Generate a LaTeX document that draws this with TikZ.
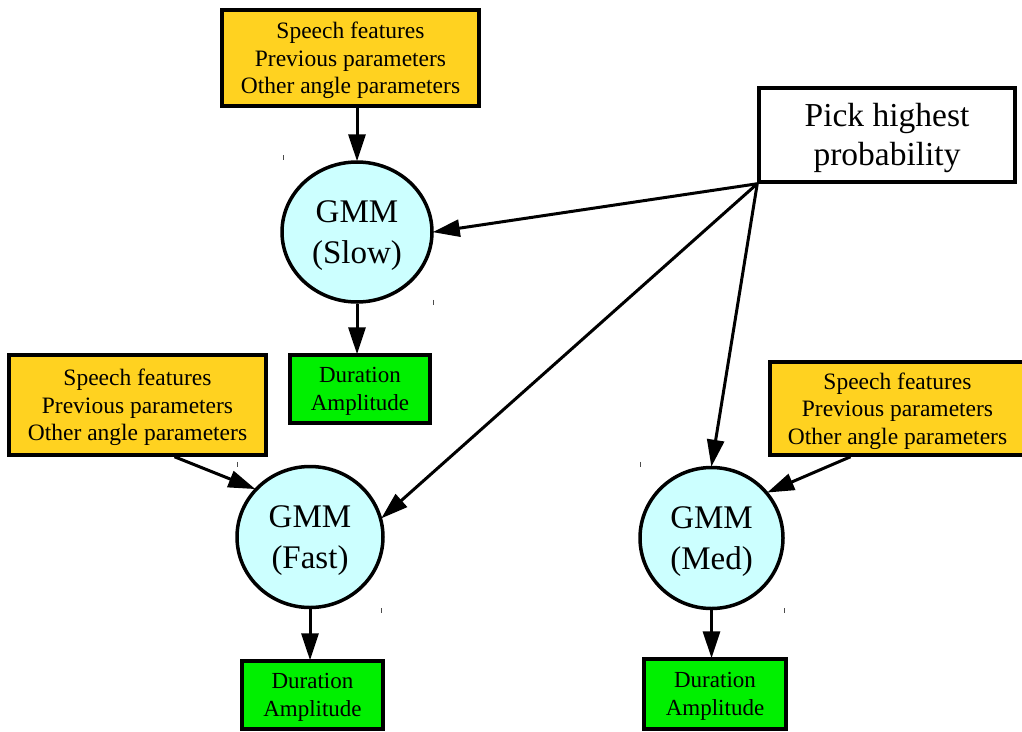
\documentclass[tikz,border=0pt]{standalone}
\usepackage{fontspec}
\setmainfont{Liberation Serif}
\usetikzlibrary{arrows.meta,shapes.geometric}

\definecolor{inputyellow}{RGB}{255,210,32}
\definecolor{gmmcyan}{RGB}{204,255,255}
\definecolor{outgreen}{RGB}{0,240,0}

\tikzset{
  inputbox/.style={draw, line width=3.5pt, fill=inputyellow, inner sep=0pt,
    minimum width=257pt, minimum height=96pt, align=center, text depth=-7pt,
    font=\fontsize{23.5}{27.5}\selectfont},
  gmm/.style={draw, ellipse, line width=3.5pt, fill=gmmcyan, inner sep=0pt,
    align=center, text depth=-7pt, font=\fontsize{33}{41}\selectfont},
  outbox/.style={draw, line width=3.5pt, fill=outgreen, inner sep=0pt,
    minimum width=140pt, minimum height=68pt, align=center, text depth=-4pt,
    font=\fontsize{23}{28}\selectfont},
  pickbox/.style={draw, line width=3.5pt, fill=white, inner sep=0pt,
    minimum width=256pt, minimum height=94pt, align=center, text depth=0.5pt,
    font=\fontsize{33.5}{39}\selectfont},
  flow/.style={line width=3pt, -{Triangle[length=27pt,width=17pt]}, shorten >=-1pt},
  tick/.style={line width=1pt, black!70}
}

\begin{document}
\begin{tikzpicture}[x=1pt, y=-1pt]
\useasboundingbox (0,0) rectangle (1022,731);

% inputs
\node[inputbox] (topin) at (350.5,58) {Speech features\\Previous parameters\\Other angle parameters};
\node[inputbox, minimum height=100pt] (leftin) at (137.5,405) {Speech features\\Previous parameters\\Other angle parameters};
\node[inputbox, minimum width=255pt, minimum height=93pt] (rightin) at (897.5,408.5) {Speech features\\Previous parameters\\Other angle parameters};

% selector
\node[pickbox] (pick) at (887,135) {Pick highest\\probability};

% mixture models
\node[gmm, minimum width=150pt, minimum height=140pt] (slow) at (357,232) {GMM\\(Slow)};
\node[gmm, minimum width=146pt, minimum height=141pt] (fast) at (310,537) {GMM\\(Fast)};
\node[gmm, minimum width=143pt, minimum height=141pt] (med) at (711.5,538) {GMM\\(Med)};

% outputs
\node[outbox] (slowout) at (360,389) {Duration\\Amplitude};
\node[outbox, minimum width=141pt] (fastout) at (312.5,695) {Duration\\Amplitude};
\node[outbox, minimum width=142pt, minimum height=70pt] (medout) at (715,694) {Duration\\Amplitude};

% connectors
\draw[flow] (topin.south -| slow.north) -- (slow.north);
\draw[flow] (slow.south) -- (slow.south |- slowout.north);
\draw[flow] ([xshift=37pt]leftin.south) -- (fast.139);
\draw[flow] ([xshift=-47pt]rightin.south) -- (med.39);
\draw[flow] (pick.south west) -- (slow.east);
\draw[flow] (pick.south west) -- (fast.15);
\draw[flow] (pick.south west) -- (med.north);
\draw[flow] (fast.south) -- (fast.south |- fastout.north);
\draw[flow] (med.south) -- (med.south |- medout.north);

% small corner marks beside the models
\draw[tick] ([xshift=3pt]slow.west |- slow.north) ++(0,-5) -- ++(0,5);
\draw[tick] (slow.east |- slow.south) ++(0,-4) -- ++(0,5);
\draw[tick] ([xshift=2pt]fast.west |- fast.north) ++(0,-3) -- ++(0,5);
\draw[tick] ([xshift=-3pt]fast.east |- fast.south) ++(0,-1) -- ++(0,5);
\draw[tick] ([xshift=2pt]med.west |- med.north) ++(0,-4) -- ++(0,5);
\draw[tick] (med.east |- med.south) ++(0,-2) -- ++(0,5);
\end{tikzpicture}
\end{document}
